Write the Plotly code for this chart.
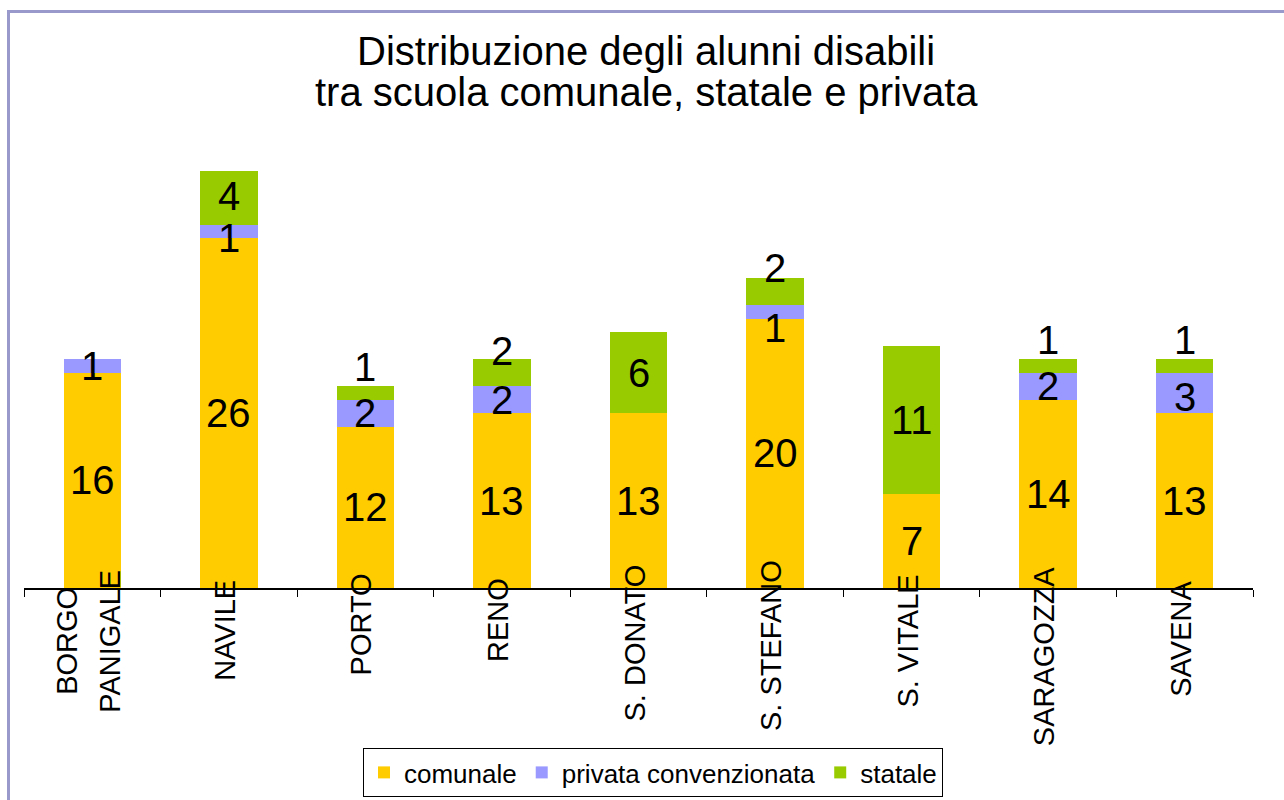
import plotly.graph_objects as go

# ---- data ----
categories = ["BORGO PANIGALE", "NAVILE", "PORTO", "RENO", "S. DONATO",
              "S. STEFANO", "S. VITALE", "SARAGOZZA", "SAVENA"]
tick_labels = ["BORGO<br>PANIGALE", "NAVILE", "PORTO", "RENO", "S. DONATO",
               "S. STEFANO", "S. VITALE", "SARAGOZZA", "SAVENA"]
comunale = [16, 26, 12, 13, 13, 20, 7, 14, 13]
privata = [1, 1, 2, 2, 0, 1, 0, 2, 3]
statale = [0, 4, 1, 2, 6, 2, 11, 1, 1]

series_names = ["comunale", "privata convenzionata", "statale"]
title_lines = ["Distribuzione degli alunni disabili",
               "tra scuola comunale, statale e privata"]

# ---- style ----
colors = ["#FFCC00", "#9999FF", "#99CC00"]
FONT = "Liberation Sans, Arial, sans-serif"
# label vertical nudges in pixels (positive = up), per series / category
label_nudge = [
    [0, 0, 0, 0, 0, 0, 0, 0, 0],
    [0, -7, 0, 0, 0, -16, 0, 0, -4],
    [0, 2, 26, 22, 0, 24, 0, 26, 26],
]
# vertical centre (page pixels) of each rotated category label
tick_center_px = [641, 630, 624, 620, 643, 646, 641, 656, 639]

W, H = 1284, 800
L, R, T, B = 24, 31, 117, 212
pw, ph = W - L - R, H - T - B


def px_x(p):
    return (p - L) / pw


def px_y(p):
    return (H - B - p) / ph


series = [comunale, privata, statale]
fig = go.Figure()
for name, vals, col in zip(series_names, series, colors):
    fig.add_trace(go.Bar(
        x=categories, y=vals, name=name,
        marker=dict(color=col, line=dict(width=0)),
        width=0.42,
    ))

annotations = []
# data labels at segment centres
base = [0] * len(categories)
for si, vals in enumerate(series):
    for ci, v in enumerate(vals):
        if v > 0:
            annotations.append(dict(
                x=categories[ci], y=base[ci] + v / 2, xref="x", yref="y",
                text=str(v), showarrow=False,
                font=dict(family=FONT, size=40, color="black"),
                xanchor="center", yanchor="middle",
                yshift=label_nudge[si][ci],
            ))
        base[ci] += v

# category labels (rotated)
for ci, lab in enumerate(tick_labels):
    lines = lab.split("<br>")
    n = len(lines)
    for li, line in enumerate(lines):
        annotations.append(dict(
            x=categories[ci], y=px_y(tick_center_px[ci]), xref="x",
            yref="paper",
            text=line, showarrow=False, textangle=-90,
            font=dict(family=FONT, size=29, color="black"),
            xanchor="center", yanchor="middle",
            xshift=-4 + (li - (n - 1) / 2) * 43,
        ))

# title lines
for ti, (line, ypx) in enumerate(zip(title_lines, [51, 92])):
    annotations.append(dict(
        x=px_x(646), y=px_y(ypx), xref="paper", yref="paper",
        text=line, showarrow=False,
        font=dict(family=FONT, size=40, color="black"),
        xanchor="center", yanchor="middle",
    ))

shapes = [
    dict(type="line", xref="paper", yref="paper",
         x0=px_x(8.5), x1=px_x(8.5), y0=px_y(1200), y1=px_y(10),
         line=dict(color="#9999CC", width=3)),
    dict(type="line", xref="paper", yref="paper",
         x0=px_x(7), x1=px_x(1400), y0=px_y(11.5), y1=px_y(11.5),
         line=dict(color="#9999CC", width=3)),
]

fig.update_layout(
    width=W, height=H,
    margin=dict(l=L, r=R, t=T, b=B, autoexpand=False),
    barmode="stack",
    paper_bgcolor="white", plot_bgcolor="white",
    font=dict(family=FONT, color="black"),
    showlegend=True,
    legend=dict(
        orientation="h", x=px_x(653), y=px_y(797),
        xanchor="center", yanchor="bottom",
        bordercolor="black", borderwidth=1, bgcolor="white",
        font=dict(family=FONT, size=26, color="black"),
        traceorder="normal", itemclick=False, itemdoubleclick=False,
        tracegroupgap=0, itemwidth=30,
    ),
    xaxis=dict(
        type="category", range=[-0.5, len(categories) - 0.5],
        showline=True, linecolor="black", linewidth=1.5,
        ticks="outside", tickson="boundaries", ticklen=7,
        tickcolor="black", tickwidth=1,
        showticklabels=False, showgrid=False, zeroline=False,
    ),
    yaxis=dict(range=[0, 35], visible=False, showgrid=False,
               zeroline=False),
    annotations=annotations,
    shapes=shapes,
)

fig.write_html(
    "out.html",
    config={"displayModeBar": False},
    post_script="document.body.style.margin='0';document.body.style.overflow='hidden';",
)
